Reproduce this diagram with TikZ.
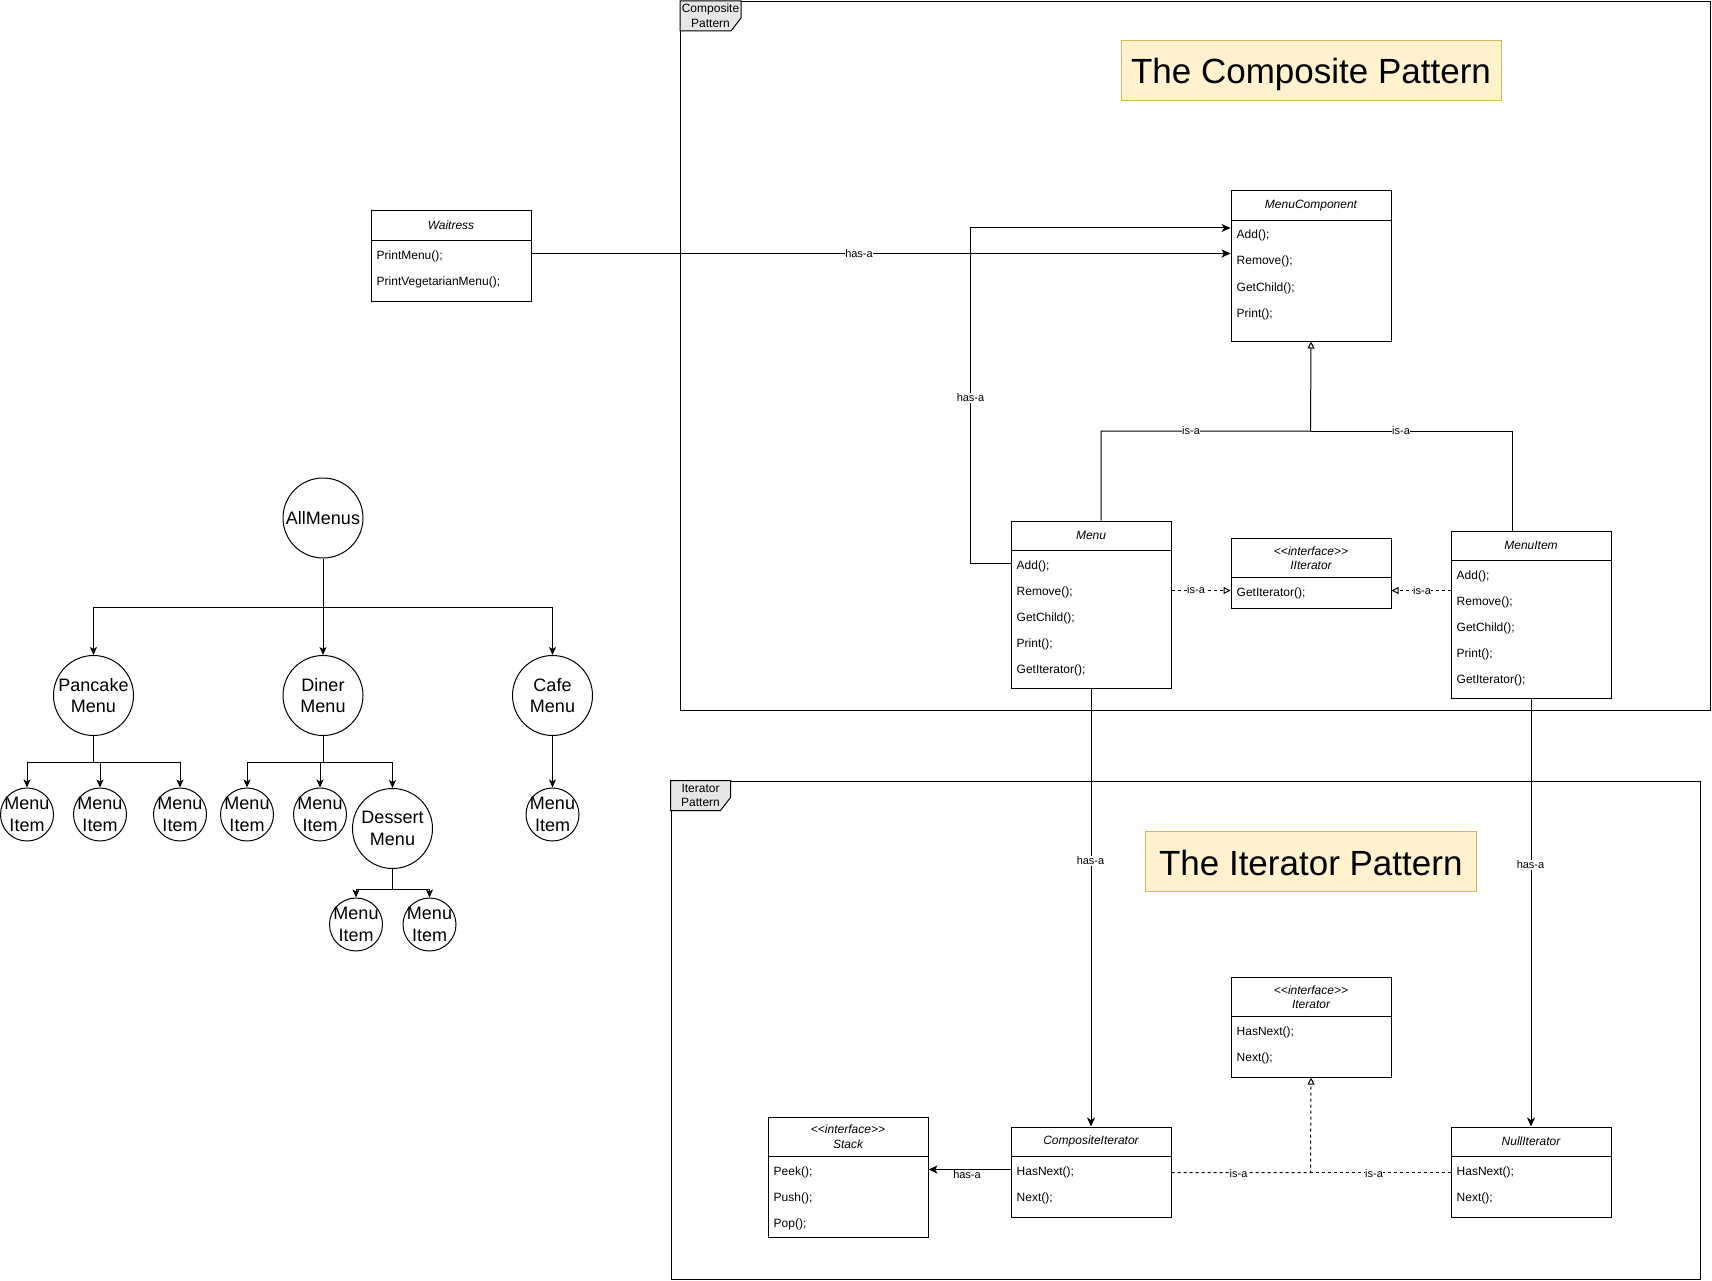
\documentclass[tikz,border=0pt]{standalone}
\usepackage{fontspec}
\setmainfont{Liberation Sans}
\usetikzlibrary{arrows.meta,calc}
\definecolor{notefill}{HTML}{FFF2CC}
\definecolor{notedraw}{HTML}{D6B656}
\definecolor{tabfill}{HTML}{E6E6E6}
\newcommand{\ifc}{<\kern0pt<interface>\kern0pt>}
\tikzset{
  box/.style={draw, line width=1pt, fill=white, inner sep=0pt, anchor=north west},
  hdr/.style={font=\fontsize{12}{14.4}\selectfont\itshape, align=center, inner sep=0pt},
  row/.style={font=\fontsize{12}{14.4}\selectfont, anchor=west, inner sep=0pt, text height=11.5pt, text depth=0.5pt},
  lbl/.style={font=\fontsize{11}{13}\selectfont, fill=white, inner sep=0.6pt},
  conn/.style={line width=1pt},
  arr/.style={conn, -{Stealth[length=9pt,width=8pt,inset=2.5pt]}},
  tarr/.style={conn, -{Stealth[length=8pt,width=7pt,inset=2pt]}},
  inh/.style={conn, -{Triangle[open,length=7pt,width=7pt]}},
  real/.style={conn, dash pattern=on 3pt off 3pt, -{Triangle[open,length=7pt,width=7pt]}},
  dsh/.style={conn, dash pattern=on 3pt off 3pt},
  tnode/.style={draw, circle, line width=1pt, inner sep=0pt},
  ttxt/.style={font=\fontsize{18}{21.6}\selectfont, align=center, inner sep=0pt},
  frame/.style={draw, line width=1pt, inner sep=0pt, anchor=north west},
  tabtxt/.style={font=\fontsize{12}{14.6}\selectfont, align=center, inner sep=0pt},
  note/.style={draw=notedraw, fill=notefill, line width=1pt, inner sep=0pt, anchor=north west},
  titletxt/.style={font=\fontsize{35}{42}\selectfont, inner sep=0pt},
}
\begin{document}
\begin{tikzpicture}[x=1pt,y=-1pt]
\useasboundingbox (0,0) rectangle (1712,1281);

% ---------- frames ----------
\node[frame, minimum width=1030, minimum height=709] (cf) at (680,1) {};
\draw[conn, fill=tabfill] (cf.north west) -- ++(61,0) -- ++(0,17) -- ++(-10,13) -- ++(-51,0) -- cycle;
\node[tabtxt] (cft) at (710.5,15.5) {Composite\\Pattern};

\node[frame, minimum width=1029.5, minimum height=498] (itf) at (670.5,780.5) {};
\draw[conn, fill=tabfill] (itf.north west) -- ++(60,0) -- ++(0,17) -- ++(-10,13) -- ++(-50,0) -- cycle;
\node[tabtxt] (itft) at (700.5,795.5) {Iterator\\Pattern};

% ---------- titles ----------
\node[note, minimum width=380, minimum height=60, label={[titletxt,yshift=-3pt]center:The Composite Pattern}] (t1) at (1120.5,40.5) {};
\node[note, minimum width=330.5, minimum height=60, label={[titletxt,yshift=-1.5pt]center:The Iterator Pattern}] (t2) at (1145,830.5) {};

% ---------- Waitress ----------
\node[box, minimum width=160, minimum height=90] (w) at (370.5,210.5) {};
\draw[conn] ($(w.north west)+(0,30)$) -- ($(w.north east)+(0,30)$);
\node[hdr] (wh) at ($(w.north)+(0,15)$) {Waitress};
\node[row] (w1) at (376.5,253.5) {PrintMenu();};
\node[row] (w2) at (376.5,279.5) {PrintVegetarianMenu();};

% ---------- MenuComponent ----------
\node[box, minimum width=160, minimum height=150] (mc) at (1230.5,190.5) {};
\draw[conn] ($(mc.north west)+(0,30)$) -- ($(mc.north east)+(0,30)$);
\node[hdr] (mch) at ($(mc.north)+(0,15)$) {MenuComponent};
\node[row] (mc1) at (1236.5,233.5) {Add();};
\node[row] (mc2) at (1236.5,259.5) {Remove();};
\node[row] (mc3) at (1236.5,285.5) {GetChild();};
\node[row] (mc4) at (1236.5,311.5) {Print();};

% ---------- Menu ----------
\node[box, minimum width=160, minimum height=167] (m) at (1010.5,520.5) {};
\draw[conn] ($(m.north west)+(0,30)$) -- ($(m.north east)+(0,30)$);
\node[hdr] (mh) at ($(m.north)+(0,15)$) {Menu};
\node[row] (m1) at (1016.5,563.5) {Add();};
\node[row] (m2) at (1016.5,589.5) {Remove();};
\node[row] (m3) at (1016.5,615.5) {GetChild();};
\node[row] (m4) at (1016.5,641.5) {Print();};
\node[row] (m5) at (1016.5,667.5) {GetIterator();};

% ---------- IIterator ----------
\node[box, minimum width=160, minimum height=70] (ii) at (1230.5,537.5) {};
\draw[conn] ($(ii.north west)+(0,40)$) -- ($(ii.north east)+(0,40)$);
\node[hdr] (iih) at ($(ii.north)+(0,20.5)$) {\ifc\\IIterator};
\node[row] (ii1) at (1236.5,590.5) {GetIterator();};

% ---------- MenuItem ----------
\node[box, minimum width=160, minimum height=167] (mi) at (1450.5,530.5) {};
\draw[conn] ($(mi.north west)+(0,30)$) -- ($(mi.north east)+(0,30)$);
\node[hdr] (mih) at ($(mi.north)+(0,15)$) {MenuItem};
\node[row] (mi1) at (1456.5,573.5) {Add();};
\node[row] (mi2) at (1456.5,599.5) {Remove();};
\node[row] (mi3) at (1456.5,625.5) {GetChild();};
\node[row] (mi4) at (1456.5,651.5) {Print();};
\node[row] (mi5) at (1456.5,677.5) {GetIterator();};

% ---------- Iterator ----------
\node[box, minimum width=160, minimum height=100] (it) at (1230.5,976.5) {};
\draw[conn] ($(it.north west)+(0,40)$) -- ($(it.north east)+(0,40)$);
\node[hdr] (ith) at ($(it.north)+(0,20.5)$) {\ifc\\Iterator};
\node[row] (it1) at (1236.5,1029.5) {HasNext();};
\node[row] (it2) at (1236.5,1055.5) {Next();};

% ---------- CompositeIterator ----------
\node[box, minimum width=160, minimum height=90] (ci) at (1010.5,1126.5) {};
\draw[conn] ($(ci.north west)+(0,30)$) -- ($(ci.north east)+(0,30)$);
\node[hdr] (cih) at ($(ci.north)+(0,15)$) {CompositeIterator};
\node[row] (ci1) at (1016.5,1169.5) {HasNext();};
\node[row] (ci2) at (1016.5,1195.5) {Next();};

% ---------- NullIterator ----------
\node[box, minimum width=160, minimum height=90] (ni) at (1450.5,1126.5) {};
\draw[conn] ($(ni.north west)+(0,30)$) -- ($(ni.north east)+(0,30)$);
\node[hdr] (nih) at ($(ni.north)+(0,15)$) {NullIterator};
\node[row] (ni1) at (1456.5,1169.5) {HasNext();};
\node[row] (ni2) at (1456.5,1195.5) {Next();};

% ---------- Stack ----------
\node[box, minimum width=160, minimum height=120] (st) at (767.5,1116.5) {};
\draw[conn] ($(st.north west)+(0,40)$) -- ($(st.north east)+(0,40)$);
\node[hdr] (sth) at ($(st.north)+(0,20)$) {\ifc\\Stack};
\node[row] (st1) at (773.5,1169.5) {Peek();};
\node[row] (st2) at (773.5,1195.5) {Push();};
\node[row] (st3) at (773.5,1221.5) {Pop();};

% ---------- connectors (UML) ----------
\coordinate (mcin) at (1230.5,228);
\coordinate (j1) at (1310.5,431);
\coordinate (j2) at (1310.5,1172.5);

\draw[arr] (w.east |- w1) -- (mc.west |- w1);
\draw[arr] (m.west |- m1) -- ++(-40,0) |- (mcin);
\draw[inh] ($(m.north)+(10,0)$) |- (j1) -- (mc.south);
\draw[conn] ($(mi.north)+(-19,0)$) |- (j1);
\draw[real] (m.east |- ii1) -- (ii.west |- ii1);
\draw[real] (mi.west |- ii1) -- (ii.east |- ii1);
\draw[arr] (m.south) -- (ci.north);
\draw[arr] (mi.south) -- (ni.north);
\draw[arr] (ci.west |- ci1) -- (st.east |- ci1);
\draw[real] (ci.east |- j2) -- (j2) -- (it.south);
\draw[dsh] (ni.west |- j2) -- (j2);

\node[lbl] (l1) at (859,253.5) {has-a};
\node[lbl] (l2) at (970.5,398) {has-a};
\node[lbl] (l3) at (1191,431) {is-a};
\node[lbl] (l4) at (1401,431) {is-a};
\node[lbl] (l5) at (1196,590) {is-a};
\node[lbl] (l6) at (1422,591) {is-a};
\node[lbl] (l7) at (1090.5,861) {has-a};
\node[lbl] (l8) at (1530.5,865) {has-a};
\node[lbl] (l9) at (967,1174.5) {has-a};
\node[lbl] (l10) at (1238.5,1174) {is-a};
\node[lbl] (l11) at (1374,1173.5) {is-a};

% ---------- tree ----------
\node[tnode, minimum size=80, label={[ttxt]center:AllMenus}] (all) at (323,518) {};
\node[tnode, minimum size=80, label={[ttxt]center:{Pancake\\Menu}}] (pan) at (93.5,695.5) {};
\node[tnode, minimum size=80, label={[ttxt]center:{Diner\\Menu}}] (din) at (323,695.5) {};
\node[tnode, minimum size=80, label={[ttxt]center:{Cafe\\Menu}}] (caf) at (552.5,695.5) {};

\node[tnode, minimum size=53, label={[ttxt]center:{Menu\\Item}}] (p1) at (27,814.5) {};
\node[tnode, minimum size=53, label={[ttxt]center:{Menu\\Item}}] (p2) at (100,814.5) {};
\node[tnode, minimum size=53, label={[ttxt]center:{Menu\\Item}}] (p3) at (180,814.5) {};

\node[tnode, minimum size=53, label={[ttxt]center:{Menu\\Item}}] (d1) at (247,814.5) {};
\node[tnode, minimum size=53, label={[ttxt]center:{Menu\\Item}}] (d2) at (320,814.5) {};
\node[tnode, minimum size=80, label={[ttxt]center:{Dessert\\Menu}}] (des) at (392.5,828.5) {};

\node[tnode, minimum size=53, label={[ttxt]center:{Menu\\Item}}] (c1) at (552.5,814.5) {};

\node[tnode, minimum size=53, label={[ttxt]center:{Menu\\Item}}] (e1) at (356,924.5) {};
\node[tnode, minimum size=53, label={[ttxt]center:{Menu\\Item}}] (e2) at (429.5,924.5) {};

\draw[tarr] (all.south) -- ++(0,48.5) -| (pan.north);
\draw[tarr] (all.south) -- (din.north);
\draw[tarr] (all.south) -- ++(0,48.5) -| (caf.north);

\draw[tarr] (pan.south) -- ++(0,26.5) -| (p1.north);
\draw[tarr] (pan.south) -- ++(0,26.5) -| (p2.north);
\draw[tarr] (pan.south) -- ++(0,26.5) -| (p3.north);

\draw[tarr] (din.south) -- ++(0,26.5) -| (d1.north);
\draw[tarr] (din.south) -- ++(0,26.5) -| (d2.north);
\draw[tarr] (din.south) -- ++(0,26.5) -| (des.north);

\draw[tarr] (caf.south) -- (c1.north);

\draw[tarr] (des.south) -- ++(0,20) -| (e1.north);
\draw[tarr] (des.south) -- ++(0,20) -| (e2.north);
\end{tikzpicture}
\end{document}
